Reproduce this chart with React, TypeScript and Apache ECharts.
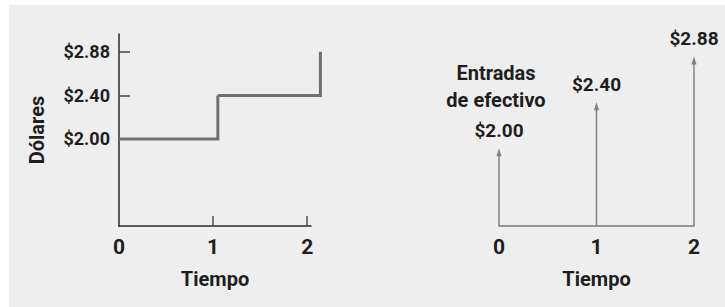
import React, { useEffect, useRef } from "react";
import * as echarts from "echarts";

// Data
const periods = [0, 1, 2];
const periodLabels = ["0", "1", "2"];
const cashFlows = [2.0, 2.4, 2.88];
const dollarLabels = ["$2.00", "$2.40", "$2.88"];
const stepStarts = [0, 1.05, 2.14];
const axisTitleY = "Dólares";
const axisTitleX = "Tiempo";
const inflowTitle = ["Entradas", "de efectivo"];

const FONT = "Roboto, 'Liberation Sans', sans-serif";
const TEXT = "#1e1e1e";

// Schematic (non-linear) dollar scale: equally spaced levels, first level two steps above zero.
const slotOf = (i: number) => i + 2;

export default function App() {
  const ref = useRef<HTMLDivElement>(null);
  useEffect(() => {
    if (!ref.current) return;
    const chart = echarts.init(ref.current, undefined, { renderer: "svg" });
    const slots = cashFlows.map((_, i) => slotOf(i));
    const labelForSlot = (v: number) => {
      const i = slots.indexOf(v);
      return i >= 0 ? dollarLabels[i] : "";
    };
    const option: any = {
      animation: false,
      backgroundColor: "#ffffff",
      graphic: [
        {
          type: "rect",
          z: -10,
          silent: true,
          shape: { x: 9, y: 5, width: 716, height: 302 },
          style: { fill: "#eeeeee" },
        },
        {
          type: "text",
          x: 496,
          y: 86.5,
          style: {
            text: inflowTitle.join("\n"),
            font: `bold 20px ${FONT}`,
            fill: TEXT,
            align: "center",
            verticalAlign: "middle",
            lineHeight: 27,
          },
        },
      ],
      grid: [
        { left: 119, top: 34, width: 192, height: 192 },
        { left: 499, top: 30, width: 195, height: 196 },
      ],
      xAxis: [
        {
          gridIndex: 0,
          type: "value",
          min: 0,
          max: 2.04,
          interval: 1,
          splitLine: { show: false },
          axisLine: { show: true, lineStyle: { color: "#2a2a2a", width: 1.5 } },
          axisTick: {
            show: true,
            inside: true,
            length: 10,
            customValues: [1, 2],
            lineStyle: { color: "#555", width: 1.5 },
          },
          axisLabel: {
            customValues: periods,
            formatter: (v: number) => periodLabels[periods.indexOf(v)] ?? "",
            margin: 10,
            fontFamily: FONT,
            fontWeight: "bold",
            fontSize: 21,
            color: TEXT,
          },
          name: axisTitleX,
          nameLocation: "middle",
          nameGap: 43,
          nameTextStyle: { fontFamily: FONT, fontWeight: "bold", fontSize: 20, color: TEXT },
        },
        {
          gridIndex: 1,
          type: "value",
          min: 0,
          max: 2,
          interval: 1,
          splitLine: { show: false },
          axisLine: { show: true, lineStyle: { color: "#7a7a7a", width: 1.5 } },
          axisTick: { show: false },
          axisLabel: {
            customValues: periods,
            formatter: (v: number) => periodLabels[periods.indexOf(v)] ?? "",
            margin: 10,
            fontFamily: FONT,
            fontWeight: "bold",
            fontSize: 21,
            color: TEXT,
          },
          name: axisTitleX,
          nameLocation: "middle",
          nameGap: 43,
          nameTextStyle: { fontFamily: FONT, fontWeight: "bold", fontSize: 20, color: TEXT },
        },
      ],
      yAxis: [
        {
          gridIndex: 0,
          type: "value",
          min: 0,
          max: 4.41,
          interval: 1,
          splitLine: { show: false },
          axisLine: { show: true, lineStyle: { color: "#2a2a2a", width: 1.5 } },
          axisTick: {
            show: true,
            inside: true,
            length: 11,
            customValues: slots,
            lineStyle: { color: "#444", width: 1.5 },
          },
          axisLabel: {
            customValues: slots,
            formatter: labelForSlot,
            margin: 9,
            fontFamily: FONT,
            fontWeight: "bold",
            fontSize: 18,
            color: TEXT,
          },
          name: axisTitleY,
          nameLocation: "middle",
          nameRotate: 90,
          nameGap: 72,
          nameTextStyle: { fontFamily: FONT, fontWeight: "bold", fontSize: 20, color: TEXT },
        },
        {
          gridIndex: 1,
          type: "value",
          min: 0.3,
          max: 4.58,
          show: false,
          splitLine: { show: false },
        },
      ],
      series: [
        {
          type: "custom",
          xAxisIndex: 0,
          yAxisIndex: 0,
          clip: false,
          data: stepStarts.map((t, i) => [t, slotOf(i)]),
          renderItem: (params: any, api: any) => {
            const i = params.dataIndex;
            if (i >= stepStarts.length - 1) return null;
            const a = api.coord([stepStarts[i], slotOf(i)]);
            const b = api.coord([stepStarts[i + 1], slotOf(i)]);
            const c = api.coord([stepStarts[i + 1], slotOf(i + 1)]);
            return {
              type: "polyline",
              shape: { points: [a, b, c] },
              style: { stroke: "#717171", lineWidth: 3, fill: null, lineJoin: "miter" },
            };
          },
        },
        {
          type: "custom",
          xAxisIndex: 1,
          yAxisIndex: 1,
          clip: false,
          data: periods.map((p, i) => [p, slotOf(i), cashFlows[i]]),
          renderItem: (params: any, api: any) => {
            const x = api.value(0);
            const slot = api.value(1);
            const i = params.dataIndex;
            const tip = api.coord([x, slot]);
            const baseY = params.coordSys.y + params.coordSys.height;
            const headLen = 8;
            const headHalf = 2.6;
            return {
              type: "group",
              children: [
                {
                  type: "line",
                  shape: { x1: tip[0], y1: baseY, x2: tip[0], y2: tip[1] + headLen - 1 },
                  style: { stroke: "#828282", lineWidth: 1.5 },
                },
                {
                  type: "polygon",
                  shape: {
                    points: [
                      [tip[0], tip[1]],
                      [tip[0] - headHalf, tip[1] + headLen],
                      [tip[0] + headHalf, tip[1] + headLen],
                    ],
                  },
                  style: { fill: "#828282" },
                },
                {
                  type: "text",
                  x: tip[0],
                  y: tip[1] - 18,
                  style: {
                    text: dollarLabels[i],
                    font: `bold 19px ${FONT}`,
                    fill: TEXT,
                    align: "center",
                    verticalAlign: "middle",
                  },
                },
              ],
            };
          },
        },
      ],
    };
    chart.setOption(option);
    return () => chart.dispose();
  }, []);
  return (
    <div
      ref={ref}
      style={{ position: "fixed", left: 0, top: 0, width: 725, height: 307 }}
    />
  );
}
